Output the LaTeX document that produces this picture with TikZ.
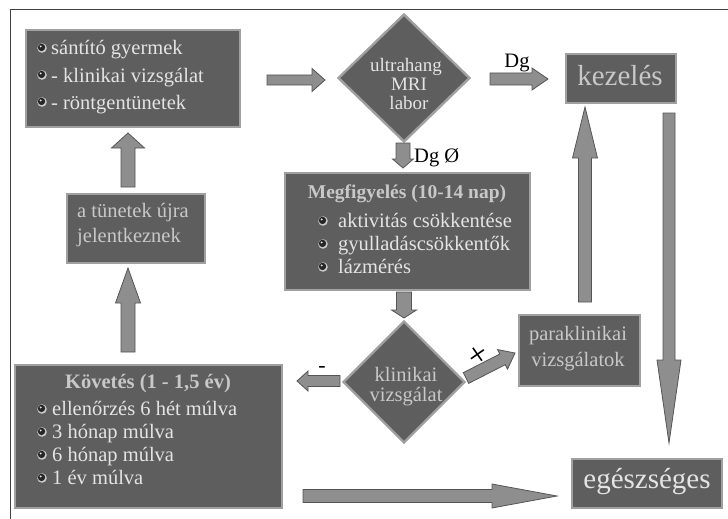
\documentclass[tikz,border=0pt]{standalone}
\usepackage{fontspec}
\setmainfont{Liberation Serif}
\usetikzlibrary{shapes.geometric,calc}
\definecolor{boxfill}{HTML}{5E5E5E}
\definecolor{boxline}{HTML}{A0A0A0}
\definecolor{arrfill}{HTML}{8E8E8E}
\definecolor{arrline}{HTML}{555555}
\definecolor{txtA}{HTML}{E4E4E4}
\definecolor{txtB}{HTML}{C8C8C8}
\newcommand\tf{\fontsize{20.5}{24}\selectfont}
\newcommand\bigtf{\fontsize{29}{32}\selectfont}
\newcommand\bul[2]{\fill[gray!40] (#1,#2) circle (4.8pt);
 \fill[black!85] ($(#1,#2)+(-0.5,-0.6)$) circle (3.7pt);
 \fill[white!80!gray] ($(#1,#2)+(-1.3,-1.6)$) circle (1.1pt);}
\newcommand\barrow[5]{%
 \coordinate (bah) at ($(#2)!#5!(#1)$);
 \filldraw[blockarrow] ($(#1)!#3!90:(#2)$) -- ($(bah)!#3!90:(#2)$) -- ($(bah)!#4!90:(#2)$) -- (#2) -- ($(bah)!#4!-90:(#2)$) -- ($(bah)!#3!-90:(#2)$) -- ($(#1)!#3!-90:(#2)$) -- cycle;}
\tikzset{
 box/.style={draw=boxline, line width=2.4pt, fill=boxfill, inner sep=0pt},
 dbox/.style={shape=diamond, draw=boxline, line width=2.4pt, fill=boxfill, inner sep=0pt},
 blockarrow/.style={fill=arrfill, draw=arrline, line width=0.8pt, line join=miter},
 itm/.style={anchor=base west, inner sep=0pt, text=txtA, font=\tf},
 ctr/.style={anchor=base, inner sep=0pt, text=txtA, font=\tf},
 lbl/.style={anchor=base, inner sep=0pt, text=black, font=\tf},
}
\begin{document}
\begin{tikzpicture}[x=1pt,y=-1pt]
\useasboundingbox (0,0) rectangle (728,519);
\draw[line width=1pt, black!75] (10,519) -- (10,10) -- (728,10);

% boxes
\node[box, minimum width=214pt, minimum height=97pt] (box1) at (133,78.5) {};
\node[box, minimum width=138pt, minimum height=69pt] (tun) at (136,228.5) {};
\node[box, minimum width=267pt, minimum height=143pt] (kov) at (148.5,436.5) {};
\node[box, minimum width=245pt, minimum height=117pt] (megf) at (407.5,231.5) {};
\node[box, minimum width=110pt, minimum height=49pt] (kez) at (621,78.5) {};
\node[box, minimum width=121pt, minimum height=71pt] (para) at (579.5,350.5) {};
\node[box, minimum width=150pt, minimum height=49pt] (egesz) at (647,483.5) {};
\node[dbox, minimum width=132pt, minimum height=128pt] (d1) at (404,78) {};
\node[dbox, minimum width=122pt, minimum height=122pt] (d2) at (404,382) {};

% box1 text
\bul{42}{48}\node[itm] (b1a) at (51,55) {sántító gyermek};
\bul{42}{75}\node[itm] (b1b) at (51,82) {- klinikai vizsgálat};
\bul{42}{102}\node[itm] (b1c) at (51,109) {- röntgentünetek};

% diamond 1 text
\node[ctr, font=\fontsize{19}{22}\selectfont] (d1a) at (406,71) {ultrahang};
\node[ctr, font=\fontsize{19}{22}\selectfont] (d1b) at (409,91) {MRI};
\node[ctr, font=\fontsize{19}{22}\selectfont] (d1c) at (409,109) {labor};

% kezeles
\node[ctr, font=\bigtf, text=txtB] (kezt) at (620,85) {kezelés};

% megfigyeles
\node[ctr, font=\fontsize{19.5}{22}\selectfont\bfseries, text=txtB] (mh) at (407,198) {Megfigyelés (10-14 nap)};
\bul{323}{221}\node[itm] (ma) at (338,227) {aktivitás csökkentése};
\bul{323}{244}\node[itm] (mb) at (338,250) {gyulladáscsökkentők};
\bul{323}{267}\node[itm] (mc) at (338,273) {lázmérés};

% tunetek
\node[itm, text=txtB] (ta) at (77,217) {a tünetek újra};
\node[itm, text=txtB] (tb) at (77,242) {jelentkeznek};

% kovetes
\node[ctr, font=\tf\bfseries, text=txtB] (kh) at (148,388) {Követés (1 - 1,5 év)};
\bul{42}{409}\node[itm] (ka) at (52,415) {ellenőrzés 6 hét múlva};
\bul{42}{432}\node[itm] (kb) at (52,438) {3 hónap múlva};
\bul{42}{455}\node[itm] (kc) at (52,461) {6 hónap múlva};
\bul{42}{478}\node[itm] (kd) at (52,484) {1 év múlva};

% diamond 2 text
\node[ctr, text=txtB] (d2a) at (406,381) {klinikai};
\node[ctr, text=txtB] (d2b) at (406,401) {vizsgálat};

% paraklinikai
\node[ctr, text=txtB] (pa) at (578,340) {paraklinikai};
\node[ctr, text=txtB] (pb) at (578,366) {vizsgálatok};

% egeszseges
\node[ctr, font=\bigtf, text=txtA] (et) at (647,488) {egészséges};

% arrows
\coordinate (a1s) at (267,80);  \coordinate (a1e) at (325,80);
\coordinate (a2s) at (490,79);  \coordinate (a2e) at (548,79);
\coordinate (a3s) at (403,143); \coordinate (a3e) at (403,168);
\coordinate (a4s) at (404,292); \coordinate (a4e) at (404,318);
\coordinate (a5s) at (340,381); \coordinate (a5e) at (297,381);
\coordinate (a6s) at (466,378); \coordinate (a6e) at (515,353);
\coordinate (a7s) at (585,302); \coordinate (a7e) at (585,107);
\coordinate (a8s) at (669,113); \coordinate (a8e) at (669,443);
\coordinate (a9s) at (128,187); \coordinate (a9e) at (128,133);
\coordinate (a10s) at (128,352); \coordinate (a10e) at (128,268);
\coordinate (a11s) at (303,496); \coordinate (a11e) at (557,496);

\barrow{a1s}{a1e}{5pt}{11.5pt}{13pt}
\barrow{a2s}{a2e}{6pt}{11pt}{16pt}
\barrow{a3s}{a3e}{7pt}{10.5pt}{9pt}
\barrow{a4s}{a4e}{7.5pt}{12.5pt}{8pt}
\barrow{a5s}{a5e}{5.5pt}{10pt}{11pt}
\barrow{a6s}{a6e}{6pt}{11pt}{14pt}
\barrow{a7s}{a7e}{6.5pt}{12.5pt}{51pt}
\barrow{a8s}{a8e}{6pt}{12pt}{83pt}
\barrow{a9s}{a9e}{7pt}{16.5pt}{15pt}
\barrow{a10s}{a10e}{7pt}{12.5pt}{35pt}
\barrow{a11s}{a11e}{6.5pt}{12pt}{65pt}

% labels
\node[lbl] (dg) at (517,67) {Dg};
\node[lbl, anchor=base west] (dg0) at (414,162) {Dg Ø};
\node[lbl, font=\fontsize{22}{24}\selectfont] (minus) at (322,372) {-};
\node[lbl, anchor=center, rotate=35, font=\fontsize{34}{36}\selectfont] (plus) at (479,356) {+};
\end{tikzpicture}
\end{document}
